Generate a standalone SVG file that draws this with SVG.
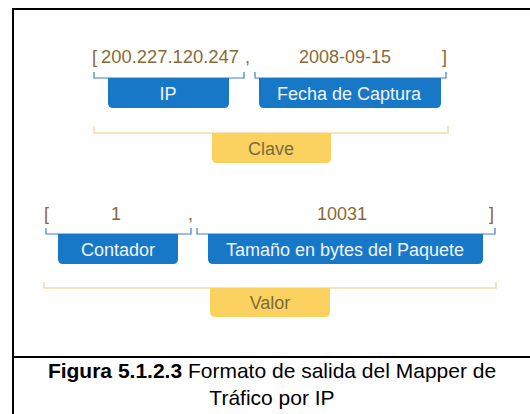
<svg xmlns="http://www.w3.org/2000/svg" width="530" height="414" viewBox="0 0 530 414">
<style>
.val{font-family:"Liberation Sans",Arial,sans-serif;font-size:18px;fill:#8a6a32}
.blab{font-family:"Liberation Sans",Arial,sans-serif;font-size:18px;fill:#eef4fb;text-anchor:middle}
.glab{font-family:"Liberation Sans",Arial,sans-serif;font-size:18px;fill:#7d6a40;text-anchor:middle}
.bbr{fill:none;stroke:#3d7cc9;stroke-width:1.2}
.gbr{fill:none;stroke:#f3dca6;stroke-width:1.5}
.bbox{fill:#1878c8}
.gbox{fill:#fbd25f}
.cap{font-family:"Liberation Sans",Arial,sans-serif;font-size:21px;fill:#000;text-anchor:middle}
</style>
<rect width="530" height="414" fill="#fff"/>
<g id="frame" fill="none" stroke="#000" stroke-width="2">
<path d="M13,414 V9 H530"/>
<path d="M13,357 H530"/>
</g>
<g id="connectors">
<path class="bbr" d="M94,72 V78 H244 V72"/>
<path class="bbr" d="M255,72 V78 H446 V72"/>
<path class="gbr" d="M94,126 V133 H448 V126"/>
<path class="bbr" d="M46,228 V234 H191 V228"/>
<path class="bbr" d="M197,228 V234 H495 V228"/>
<path class="gbr" d="M44,282 V288 H496 V282"/>
</g>
<g id="key-values">
<text class="val" x="92" y="63">[</text>
<text class="val" x="101" y="63" textLength="138" lengthAdjust="spacingAndGlyphs">200.227.120.247</text>
<text class="val" x="245" y="63">,</text>
<text class="val" x="345" y="63" text-anchor="middle">2008-09-15</text>
<text class="val" x="442" y="63">]</text>
</g>
<g id="ip">
<path class="bbox" d="M108,78 H229 V103 Q229,108 224,108 H113 Q108,108 108,103 Z"/>
<text class="blab" x="168" y="100">IP</text>
</g>
<g id="fecha">
<path class="bbox" d="M259,78 H441 V103 Q441,108 436,108 H264 Q259,108 259,103 Z"/>
<text class="blab" x="349" y="100">Fecha de Captura</text>
</g>
<g id="clave">
<path class="gbox" d="M212,133 H331 V158 Q331,163 326,163 H217 Q212,163 212,158 Z"/>
<text class="glab" x="271" y="155">Clave</text>
</g>
<g id="value-values">
<text class="val" x="44" y="220">[</text>
<text class="val" x="116" y="220" text-anchor="middle">1</text>
<text class="val" x="188" y="220">,</text>
<text class="val" x="342" y="220" text-anchor="middle">10031</text>
<text class="val" x="489" y="220">]</text>
</g>
<g id="contador">
<path class="bbox" d="M58,234 H178 V259 Q178,264 173,264 H63 Q58,264 58,259 Z"/>
<text class="blab" x="118" y="256">Contador</text>
</g>
<g id="tamano">
<path class="bbox" d="M208,234 H483 V259 Q483,264 478,264 H213 Q208,264 208,259 Z"/>
<text class="blab" x="345" y="256">Tamaño en bytes del Paquete</text>
</g>
<g id="valor">
<path class="gbox" d="M210,288 H330 V312 Q330,317 325,317 H215 Q210,317 210,312 Z"/>
<text class="glab" x="270" y="309">Valor</text>
</g>
<g id="caption">
<text class="cap" x="272" y="378"><tspan font-weight="bold">Figura 5.1.2.3</tspan> Formato de salida del Mapper de</text>
<text class="cap" x="272" y="405">Tráfico por IP</text>
</g>
</svg>
